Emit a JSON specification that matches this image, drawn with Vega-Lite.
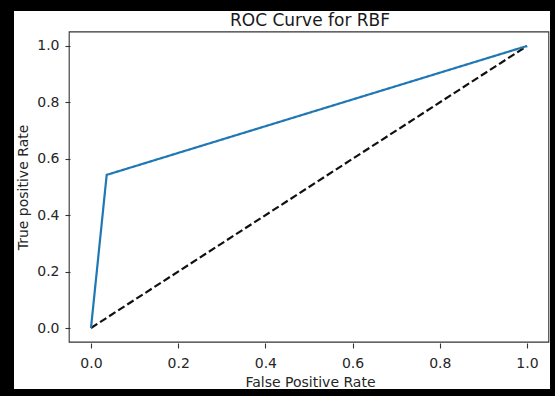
{
  "$schema": "https://vega.github.io/schema/vega-lite/v6.json",
  "width": 536,
  "height": 378,
  "autosize": {"type": "none"},
  "padding": {"left": 14, "top": 11, "right": 5, "bottom": 7},
  "background": "black",
  "config": {
    "view": {"fill": "white", "stroke": null},
    "font": "DejaVu Sans"
  },
  "title": {
    "text": "ROC Curve for RBF",
    "fontSize": 17,
    "fontWeight": "normal",
    "color": "#1a1a1a",
    "anchor": "middle",
    "frame": "group",
    "baseline": "alphabetic",
    "offset": 0,
    "dx": 28,
    "dy": 32
  },
  "layer": [
    {
      "data": {
        "values": [
          {"series": "diag", "fpr": 0, "tpr": 0},
          {"series": "diag", "fpr": 1, "tpr": 1},
          {"series": "roc", "fpr": 0, "tpr": 0},
          {"series": "roc", "fpr": 0.036, "tpr": 0.543},
          {"series": "roc", "fpr": 1, "tpr": 1}
        ]
      },
      "mark": {"type": "line", "strokeWidth": 2.2},
      "encoding": {
        "x": {
          "field": "fpr",
          "type": "quantitative",
          "scale": {"domain": [-0.1766, 1.0528], "nice": false, "zero": false},
          "axis": {
            "orient": "bottom",
            "offset": -46,
            "values": [0, 0.2, 0.4, 0.6, 0.8, 1.0],
            "format": ".1f",
            "domain": false,
            "grid": false,
            "tickColor": "#333333",
            "tickSize": 5,
            "tickWidth": 1.1,
            "labelFontSize": 14,
            "labelColor": "#262626",
            "labelPadding": 8,
            "title": "False Positive Rate",
            "titleFontSize": 14,
            "titleFontWeight": "normal",
            "titleColor": "#262626",
            "titleX": 296,
            "titleY": 43,
            "titleBaseline": "alphabetic",
            "titleAlign": "center"
          }
        },
        "y": {
          "field": "tpr",
          "type": "quantitative",
          "scale": {"domain": [-0.2163, 1.1241], "nice": false, "zero": false},
          "axis": {
            "orient": "left",
            "offset": -56,
            "values": [0, 0.2, 0.4, 0.6, 0.8, 1.0],
            "format": ".1f",
            "domain": false,
            "grid": false,
            "tickColor": "#333333",
            "tickSize": 5,
            "tickWidth": 1.1,
            "labelFontSize": 14,
            "labelColor": "#262626",
            "labelPadding": 6,
            "title": "True positive Rate",
            "titleFontSize": 14,
            "titleFontWeight": "normal",
            "titleColor": "#262626",
            "titleX": -43,
            "titleY": 176,
            "titleAngle": -90,
            "titleBaseline": "alphabetic",
            "titleAlign": "center"
          }
        },
        "color": {
          "field": "series",
          "type": "nominal",
          "scale": {"domain": ["diag", "roc"], "range": ["#111111", "#1f77b4"]},
          "legend": null
        },
        "strokeDash": {
          "field": "series",
          "type": "nominal",
          "scale": {"domain": ["diag", "roc"], "range": [[7.5, 3.3], [1, 0]]},
          "legend": null
        }
      }
    },
    {
      "data": {"values": [{}]},
      "mark": {"type": "rect", "filled": false, "stroke": "#333333", "strokeWidth": 1.1, "clip": false},
      "encoding": {
        "x": {"datum": -0.05, "type": "quantitative"},
        "x2": {"datum": 1.05},
        "y": {"datum": -0.05, "type": "quantitative"},
        "y2": {"datum": 1.05}
      }
    }
  ]
}
